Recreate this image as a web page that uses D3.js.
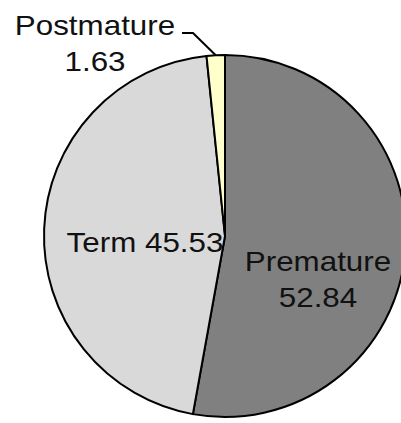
<!DOCTYPE html>
<html>
<head>
<meta charset="utf-8">
<script src="https://cdn.jsdelivr.net/npm/d3@7/dist/d3.min.js"></script>
<style>
  html, body { margin: 0; padding: 0; background: #fff; }
  svg { display: block; }
  text { font-family: "Liberation Sans", Arial, sans-serif; font-size: 28px; fill: #111; }
</style>
</head>
<body>
<svg id="chart" width="401" height="423"></svg>
<script>
// Gestational age distribution (%)
const categories = ["Premature", "Term", "Postmature"];
const values = [52.84, 45.53, 1.63];
const colors = ["#808080", "#d9d9d9", "#ffffcc"];

const W = 401, H = 423;
const cx = 225, cy = 236, R = 181;

const svg = d3.select("#chart");
const g = svg.append("g").attr("transform", `translate(${cx},${cy})`);

const pie = d3.pie().sort(null).value(d => d.value);
const arcs = pie(categories.map((c, i) => ({ name: c, value: values[i], color: colors[i] })));
const arc = d3.arc().innerRadius(0).outerRadius(R);

g.selectAll("path.slice")
  .data(arcs)
  .join("path")
  .attr("class", "slice")
  .attr("d", arc)
  .attr("fill", d => d.data.color)
  .attr("stroke", "#000")
  .attr("stroke-width", 2)
  .attr("stroke-linejoin", "round");

// Label placement relative to the pie centre (two-line or single-line)
const labelSpots = {
  Premature: { x: 93, y: 35, lines: 2 },
  Term: { x: -80, y: 16, lines: 1 },
  Postmature: { x: -130, y: -201, lines: 2 }
};

const fmt = v => v.toFixed(2);
const SX = 1.12; // text is drawn slightly wide

arcs.forEach(a => {
  const s = labelSpots[a.data.name];
  const t = g.append("text")
    .attr("text-anchor", "middle")
    .attr("transform", `translate(${s.x},${s.y}) scale(${SX},1)`);
  if (s.lines === 1) {
    t.text(`${a.data.name} ${fmt(a.data.value)}`);
  } else {
    t.append("tspan").attr("x", 0).attr("y", 0).text(a.data.name);
    t.append("tspan").attr("x", 0).attr("y", 36).text(fmt(a.data.value));
  }
});

// Leader line for the small outside label
const post = arcs[2];
const mid = (post.startAngle + post.endAngle) / 2;
const edge = [R * Math.sin(mid), -R * Math.cos(mid)];
g.append("path")
  .attr("d", d3.line()([[-43, -203], [-32, -203], edge]))
  .attr("fill", "none")
  .attr("stroke", "#000")
  .attr("stroke-width", 2);
</script>
</body>
</html>
